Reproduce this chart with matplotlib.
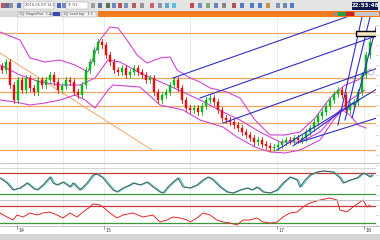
import numpy as np
import matplotlib
matplotlib.use("Agg")
import matplotlib.pyplot as plt
from matplotlib.patches import Rectangle, Circle

# all vertical values are chart levels (top = small)
close = [70, 62, 85, 100, 80, 90, 78, 88, 92, 80,
         85, 80, 75, 82, 90, 86, 80, 82, 92, 95,
         85, 70, 62, 50, 42, 45, 55, 62, 70, 72,
         68, 75, 72, 68, 72, 75, 80, 78, 92, 100,
         95, 92, 85, 80, 88, 100, 108, 110, 108, 112,
         106, 100, 98, 102, 110, 118, 120, 122, 125, 128,
         132, 135, 138, 142, 140, 144, 146, 148, 147, 145,
         142, 140, 141, 138, 140, 138, 132, 128, 122, 116,
         112, 106, 100, 94, 90, 95, 110, 105, 102, 92,
         75, 55, 42]
first_open = 66
bar_x = [2 + 4 * i for i in range(len(close))]

upper_x = [0, 20, 30, 45, 60, 75, 88, 100, 110, 118, 127, 137, 147, 160, 170, 177, 190,
           200, 210, 227, 240, 255, 270, 285, 300, 315, 330, 345, 358, 368]
upper_y = [32, 40, 58, 62, 60, 65, 72, 40, 27, 28, 40, 55, 63, 58, 57, 70, 78,
           82, 88, 92, 98, 120, 135, 135, 132, 118, 98, 85, 80, 72]
mid_x = [0, 20, 40, 60, 80, 95, 108, 120, 140, 163, 183, 200, 223, 240, 260, 280, 300,
         320, 335, 350, 365]
mid_y = [65, 75, 82, 85, 85, 78, 60, 62, 73, 83, 92, 100, 112, 120, 132, 142, 142,
         132, 115, 100, 90]
lower_x = [0, 15, 30, 45, 60, 75, 85, 95, 108, 113, 140, 160, 183, 200, 223, 237, 255,
           270, 285, 300, 320, 335, 342, 350, 358, 366]
lower_y = [100, 102, 105, 103, 100, 95, 100, 108, 90, 85, 87, 105, 110, 120, 127, 137, 147,
           152, 153, 150, 140, 118, 110, 115, 125, 128]

levels = [33, 78, 92, 106, 123, 150]
diag = ([0, 152], [53, 150])
trend_lines = [((173, 355), (78, 14)),
               ((200, 376), (98, 36)),
               ((223, 378), (123, 68)),
               ((277, 380), (150, 87)),
               ((300, 380), (142, 117)),
               ((293, 353), (146, 103)),
               ((338, 362), (125, 17)),
               ((345, 370), (120, 17)),
               ((352, 378), (118, 20))]

osc1_x = [0, 7, 13, 20, 27, 33, 37, 43, 50, 53, 57, 63, 70, 73, 80, 87, 93, 97, 103, 107,
          113, 117, 123, 130, 133, 140, 147, 153, 160, 163, 167, 173, 178, 183,
          190, 197, 203, 208, 213, 220, 227, 233, 240, 247, 252, 257, 263, 270, 277,
          283, 290, 297, 300, 305, 310, 317, 323, 333, 340, 343, 350, 357, 363, 367, 370, 372]
osc1_y = [178, 183, 190, 188, 183, 188, 190, 185, 177, 183, 185, 182, 187, 183, 190, 183,
          175, 174, 178, 183, 190, 192, 188, 185, 183, 185, 182, 187, 192, 193, 188, 182,
          178, 187, 188, 185, 180, 177, 180, 187, 192, 193, 190, 188, 190, 187, 192, 193,
          190, 183, 177, 180, 187, 180, 175, 172, 171, 172, 178, 183, 180, 178, 173, 175,
          177, 175]

osc2_x = [0, 7, 13, 17, 23, 30, 37, 43, 50, 57, 63, 70, 77, 83, 90, 93, 100, 103, 110,
          117, 123, 133, 143, 153, 160, 167, 173, 180, 187,
          190, 197, 203, 210, 217, 223, 230, 237, 243, 250, 257, 263, 270, 277, 283,
          290, 297, 303, 310, 320, 330, 337, 340, 347, 353, 360, 363, 367, 370]
osc2_y = [213, 217, 220, 215, 217, 213, 215, 213, 212, 215, 218, 213, 217, 212, 207, 204,
          205, 207, 213, 218, 215, 213, 217, 215, 222, 220, 217, 218, 220,
          222, 218, 213, 215, 220, 222, 223, 225, 220, 220, 218, 222, 223, 222, 217,
          213, 212, 207, 203, 200, 198, 200, 210, 212, 207, 202, 200, 207, 205]

date_pos = [17, 104, 277, 364]
date_labels = ["14", "15", "17", "18"]
clock = "22:53:48"

fig = plt.figure(figsize=(3.8, 2.4), dpi=100)
fig.patch.set_facecolor("white")

W = 376 / 380
grid_x = [17, 63, 104, 190, 277, 364]

# ---- main price panel
ax = fig.add_axes([0, 77 / 240, W, 146 / 240])
ax.set_xlim(0, 376)
ax.set_ylim(163, 17)
ax.axis("off")

for x in grid_x:
    ax.axvline(x, color="#e2eee2", lw=0.6, zorder=0)
for lv in levels:
    ax.axhline(lv, color="#f2a55e", lw=0.9, zorder=1)
ax.plot(diag[0], diag[1], color="#f2b07a", lw=0.8, zorder=1)

for bx, by in [(upper_x, upper_y), (mid_x, mid_y), (lower_x, lower_y)]:
    ax.plot(bx, by, color="#d444d4", lw=0.8, zorder=2)

opens = [first_open] + close[:-1]
for x, o, c in zip(bar_x, opens, close):
    col = "#00b818" if c < o else "#e01010"
    top, bot = min(o, c), max(o, c)
    ax.plot([x, x], [top - 3, bot + 3], color=col, lw=0.6, zorder=3)
    ax.add_patch(Rectangle((x - 1.0, top), 2.0, max(bot - top, 0.8),
                           facecolor=col, edgecolor=col, lw=0.3, zorder=4))

for (xs, ys) in trend_lines:
    ax.plot(xs, ys, color="#2e2ec8", lw=0.8, zorder=5)

ax.add_patch(Rectangle((356, 31), 22, 5, facecolor="#f4e6c8", edgecolor="black",
                       lw=1.0, zorder=6))
ax.add_patch(Circle((371, 72), 3, fill=False, edgecolor="#b0a0d8", lw=0.6, zorder=6))

# ---- oscillator 1
o1 = fig.add_axes([0, 40 / 240, W, 37 / 240])
o1.set_xlim(0, 376)
o1.set_ylim(200, 163)
o1.axis("off")
for x in grid_x:
    o1.axvline(x, color="#e2eee2", lw=0.6, zorder=0)
o1.axhline(168, color="#cfcfcf", lw=0.6)
o1.axhline(173, color="#c23a3a", lw=0.9)
o1.axhline(194, color="#3a9a3a", lw=0.9)
o1.plot(np.array(osc1_x) + 1.5, osc1_y, color="#40c8c8", lw=0.8, clip_on=False)
o1.plot(osc1_x, osc1_y, color="#555555", lw=0.7, clip_on=False)

# ---- oscillator 2
o2 = fig.add_axes([0, 14 / 240, W, 26 / 240])
o2.set_xlim(0, 376)
o2.set_ylim(226, 200)
o2.axis("off")
for x in grid_x:
    o2.axvline(x, color="#e2eee2", lw=0.6, zorder=0)
o2.axhline(206, color="#c23a3a", lw=0.9)
o2.axhline(223, color="#3a9a3a", lw=0.9)
o2.plot(osc2_x, osc2_y, color="#e02828", lw=0.7, clip_on=False)

# ---- frame overlay: toolbar, tabs, separators, date axis
fr = fig.add_axes([0, 0, 1, 1], zorder=10)
fr.set_xlim(0, 380)
fr.set_ylim(240, 0)
fr.axis("off")

fr.add_patch(Rectangle((0, 0), 380, 11, facecolor="#e4e4e4", edgecolor="none"))
icons = [(1, "#c03030"), (5, "#3050a0"), (9, "#808080"), (17, "#3050b0"),
         (57, "#2040c0"), (62, "#6070c0"), (91, "#909090"), (98, "#405080"),
         (106, "#2a5a2a"), (112, "#5070b0"), (118, "#b03030"), (124, "#6080b0"),
         (132, "#a04040"), (140, "#808080"), (150, "#c04060"), (158, "#7080a0"),
         (165, "#30a0d0"), (172, "#40b0e0"), (190, "#c02030"), (198, "#5080b0"),
         (206, "#60a060"), (214, "#4070b0"), (222, "#707070"), (232, "#a03030"),
         (240, "#3060c0"), (250, "#3060c0"), (258, "#3060c0"), (266, "#c08020"),
         (276, "#6080b0"), (283, "#5070a0"), (290, "#3060c0")]
for x, c in icons:
    fr.add_patch(Rectangle((x, 2.5), 4, 5, facecolor=c, edgecolor="none", alpha=0.8))
fr.add_patch(Rectangle((24, 2), 30, 6.5, facecolor="white", edgecolor="#a0a0a0", lw=0.3))
fr.text(25, 5.4, "2016.05.09 14:1", fontsize=2.6, color="#505050", va="center")
fr.add_patch(Rectangle((66, 2), 22, 6.5, facecolor="white", edgecolor="#a0a0a0", lw=0.3))
fr.text(67, 5.4, "TF H1", fontsize=2.6, color="#505050", va="center")
fr.add_patch(Rectangle((352, 1.5), 26, 8, facecolor="#0e1a4e", edgecolor="none"))
fr.text(365, 5.6, clock, fontsize=4, color="white", ha="center", va="center",
        fontweight="bold")

fr.add_patch(Rectangle((0, 11), 380, 6, facecolor="#d8d8d8", edgecolor="none"))
fr.add_patch(Rectangle((98, 11), 282, 6, facecolor="#f27b1f", edgecolor="none"))
fr.add_patch(Rectangle((18, 11.5), 32, 5, facecolor="#f4f4f4", edgecolor="#909090", lw=0.3))
fr.text(19, 14.1, "1@ SlogoaProt  1.2x", fontsize=2.4, color="#404040", va="center")
fr.add_patch(Rectangle((53, 12), 7, 4, facecolor="#3a48b0", edgecolor="none"))
fr.add_patch(Rectangle((62, 11.5), 34, 5, facecolor="#f4f4f4", edgecolor="#909090", lw=0.3))
fr.text(63, 14.1, "1@ Load tap.  1.1", fontsize=2.4, color="#404040", va="center")
fr.add_patch(Rectangle((334, 12), 3, 4, facecolor="#909090", edgecolor="none"))
fr.add_patch(Rectangle((338, 12), 8, 4, facecolor="#20a040", edgecolor="none"))
fr.add_patch(Rectangle((346, 12), 8, 4, facecolor="#d02020", edgecolor="none"))
fr.add_patch(Rectangle((355, 12), 24, 4, facecolor="#c8c8c8", edgecolor="none"))

for y in [163, 200, 226]:
    fr.plot([0, 380], [y, y], color="#bdbdbd", lw=0.6)
for y in range(25, 226, 10):
    fr.plot([376, 378], [y, y], color="#b0b0b0", lw=0.4)
for x, lab in zip(date_pos, date_labels):
    fr.plot([x, x], [226, 229], color="#808080", lw=0.5)
    fr.text(x + 1, 230.5, lab, fontsize=3.4, color="#404040", va="center")
fr.add_patch(Rectangle((0, 234), 380, 6, facecolor="#d4d4d4", edgecolor="none"))

fig.savefig("out.png", dpi=100)
